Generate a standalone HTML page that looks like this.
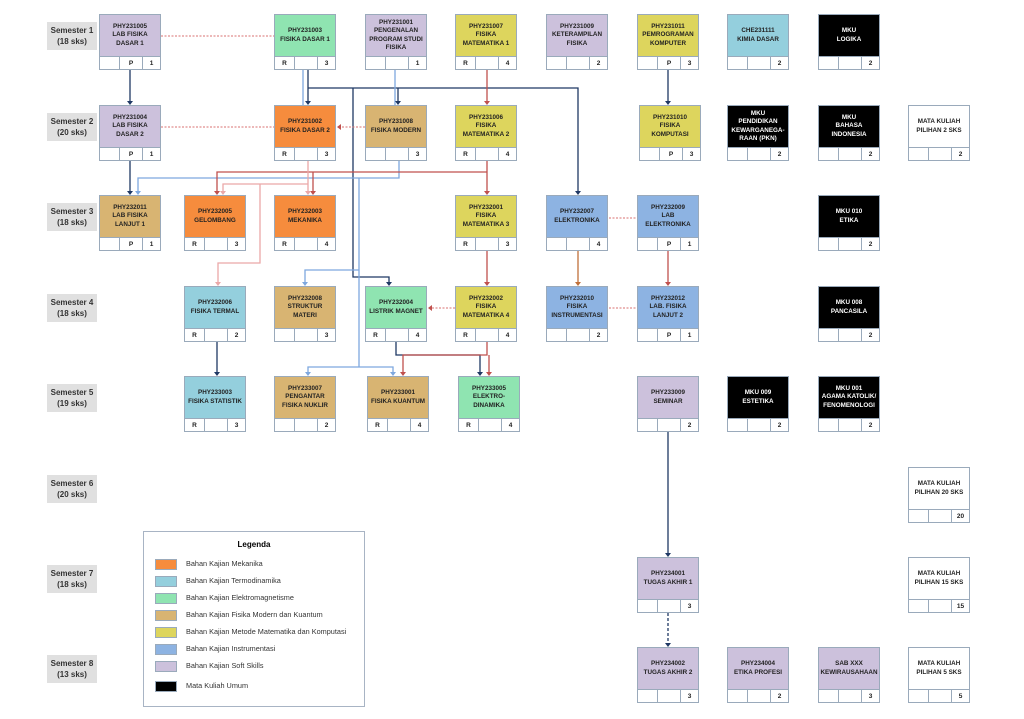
<!DOCTYPE html>
<html><head><meta charset="utf-8"><style>
body{margin:0;width:1024px;height:719px;background:#fff;position:relative;overflow:hidden;font-family:"Liberation Sans",Arial,sans-serif}
.s{position:absolute;left:47px;width:50px;height:28px;background:#e0e0e0;font-size:8px;font-weight:bold;color:#333;text-align:center;line-height:11px;padding-top:3px;box-sizing:border-box}
.b{position:absolute;width:62px;height:56px;border:1px solid #9aaabb;box-sizing:border-box;background:#fff}
.b .t{height:42px;border-bottom:1px solid #9aaabb;display:flex;align-items:center;justify-content:center;text-align:center;font-size:6.3px;font-weight:bold;line-height:8.5px;color:#222;box-sizing:border-box}
.b .f{display:flex;height:13px;font-size:6.5px;font-weight:bold;line-height:13px;color:#222}
.b .f span{text-align:center}
.b .f span:nth-child(1){width:19px;border-right:1px solid #9aaabb}
.b .f span:nth-child(2){width:22px;border-right:1px solid #9aaabb}
.b .f span:nth-child(3){flex:1}
.k .t{background:#000;color:#fff}
.lav .t{background:#ccc1dc}.grn .t{background:#8fe4b1}.org .t{background:#f68c3d}.tan .t{background:#d8b472}.yel .t{background:#ddd55d}.lbl .t{background:#94cfdd}.blu .t{background:#8db3e2}
.lg{position:absolute;left:143px;top:531px;width:222px;height:176px;border:1px solid #a8b4c4;box-sizing:border-box}
.lg .h{position:absolute;top:8px;width:100%;text-align:center;font-size:8px;font-weight:bold}
.lg .r{position:absolute;left:11px;font-size:7.3px;color:#333;line-height:11px}
.lg .r i{display:inline-block;width:22px;height:11px;border:1px solid #9aaabb;vertical-align:middle;margin-right:9px;box-sizing:border-box}
svg{position:absolute;left:0;top:0}
</style></head><body>
<div class="s" style="top:22px">Semester 1<br>(18 sks)</div>
<div class="s" style="top:113px">Semester 2<br>(20 sks)</div>
<div class="s" style="top:203px">Semester 3<br>(18 sks)</div>
<div class="s" style="top:294px">Semester 4<br>(18 sks)</div>
<div class="s" style="top:384px">Semester 5<br>(19 sks)</div>
<div class="s" style="top:475px">Semester 6<br>(20 sks)</div>
<div class="s" style="top:565px">Semester 7<br>(18 sks)</div>
<div class="s" style="top:655px">Semester 8<br>(13 sks)</div>

<svg width="1024" height="719">
<defs>
<marker id="an" markerWidth="6" markerHeight="6" refX="3" refY="5" orient="auto-start-reverse" markerUnits="userSpaceOnUse"><path d="M0,1 L6,1 L3,6z" fill="#1f3864" transform="rotate(-90 3 3)"/></marker>
</defs>
<g fill="none" stroke-width="1.3">
<!-- navy -->
<g stroke="#1f3864">
<path d="M130 70V103M130 161V193M308 70V103M308 88H578V193M398 88V103M353 88V277H389V284M668 70V103M217 342V374M396 342V355H480V374M668 432V555"/>
<path d="M668 613V645" stroke-dasharray="3,2"/>
</g>
<g stroke="#7ea8df">
<path d="M303 70V105M395 70V105M399 161V178H138V193M359 178V367H308V374M359 367H393V374M359 270H305V284"/>
</g>
<g stroke="#c0504d">
<path d="M487 70V103M487 161V193M487 172H217V193M313 172V193M487 251V284M487 342V355H403V374M489 355V374M578 0"/>
<path d="M668 251V284"/>
</g>
<path d="M578 251V284" stroke="#c0703a"/>
<g stroke="#eaa8a8">
<path d="M308 161V193M308 184H223V193M260 184V263H218V284"/>
</g>
<g stroke="#d87070" stroke-width="0.9" stroke-dasharray="2,1.5">
<path d="M161 36H274M161 127H274M365 127H339M455 308H430M609 218H637M609 308H637"/>
</g>
</g>
<g fill="#1f3864">
<path d="M127 101h6l-3 4zM127 191h6l-3 4zM305 101h6l-3 4zM395 101h6l-3 4zM575 191h6l-3 4zM386 282h6l-3 4zM665 101h6l-3 4zM214 372h6l-3 4zM477 372h6l-3 4zM665 553h6l-3 4zM665 643h6l-3 4z"/>
</g>
<g fill="#7ea8df"><path d="M135 191h6l-3 4zM305 372h6l-3 4zM390 372h6l-3 4zM302 282h6l-3 4z"/></g>
<g fill="#c0504d"><path d="M484 101h6l-3 4zM484 191h6l-3 4zM214 191h6l-3 4zM310 191h6l-3 4zM484 282h6l-3 4zM400 372h6l-3 4zM486 372h6l-3 4zM665 282h6l-3 4zM337 127l4-3v6zM428 308l4-3v6z"/></g>
<g fill="#c0703a"><path d="M575 282h6l-3 4z"/></g>
<g fill="#eaa8a8"><path d="M305 191h6l-3 4zM220 191h6l-3 4zM215 282h6l-3 4z"/></g>
</svg>

<!-- Row 1 -->
<div class="b lav" style="left:99px;top:14px"><div class="t">PHY231005<br>LAB FISIKA<br>DASAR 1</div><div class="f"><span></span><span>P</span><span>1</span></div></div>
<div class="b grn" style="left:274px;top:14px"><div class="t">PHY231003<br>FISIKA DASAR 1</div><div class="f"><span>R</span><span></span><span>3</span></div></div>
<div class="b lav" style="left:365px;top:14px"><div class="t">PHY231001<br>PENGENALAN<br>PROGRAM STUDI<br>FISIKA</div><div class="f"><span></span><span></span><span>1</span></div></div>
<div class="b yel" style="left:455px;top:14px"><div class="t">PHY231007<br>FISIKA<br>MATEMATIKA 1</div><div class="f"><span>R</span><span></span><span>4</span></div></div>
<div class="b lav" style="left:546px;top:14px"><div class="t">PHY231009<br>KETERAMPILAN<br>FISIKA</div><div class="f"><span></span><span></span><span>2</span></div></div>
<div class="b yel" style="left:637px;top:14px"><div class="t">PHY231011<br>PEMROGRAMAN<br>KOMPUTER</div><div class="f"><span></span><span>P</span><span>3</span></div></div>
<div class="b lbl" style="left:727px;top:14px"><div class="t">CHE231111<br>KIMIA DASAR</div><div class="f"><span></span><span></span><span>2</span></div></div>
<div class="b k" style="left:818px;top:14px"><div class="t">MKU<br>LOGIKA</div><div class="f"><span></span><span></span><span>2</span></div></div>
<!-- Row 2 -->
<div class="b lav" style="left:99px;top:105px"><div class="t">PHY231004<br>LAB FISIKA<br>DASAR 2</div><div class="f"><span></span><span>P</span><span>1</span></div></div>
<div class="b org" style="left:274px;top:105px"><div class="t">PHY231002<br>FISIKA DASAR 2</div><div class="f"><span>R</span><span></span><span>3</span></div></div>
<div class="b tan" style="left:365px;top:105px"><div class="t">PHY231008<br>FISIKA MODERN</div><div class="f"><span></span><span></span><span>3</span></div></div>
<div class="b yel" style="left:455px;top:105px"><div class="t">PHY231006<br>FISIKA<br>MATEMATIKA 2</div><div class="f"><span>R</span><span></span><span>4</span></div></div>
<div class="b yel" style="left:639px;top:105px"><div class="t">PHY231010<br>FISIKA<br>KOMPUTASI</div><div class="f"><span></span><span>P</span><span>3</span></div></div>
<div class="b k" style="left:727px;top:105px"><div class="t">MKU<br>PENDIDIKAN<br>KEWARGANEGA-<br>RAAN (PKN)</div><div class="f"><span></span><span></span><span>2</span></div></div>
<div class="b k" style="left:818px;top:105px"><div class="t">MKU<br>BAHASA<br>INDONESIA</div><div class="f"><span></span><span></span><span>2</span></div></div>
<div class="b" style="left:908px;top:105px"><div class="t">MATA KULIAH<br>PILIHAN 2 SKS</div><div class="f"><span></span><span></span><span>2</span></div></div>
<!-- Row 3 -->
<div class="b tan" style="left:99px;top:195px"><div class="t">PHY232011<br>LAB FISIKA<br>LANJUT 1</div><div class="f"><span></span><span>P</span><span>1</span></div></div>
<div class="b org" style="left:184px;top:195px"><div class="t">PHY232005<br>GELOMBANG</div><div class="f"><span>R</span><span></span><span>3</span></div></div>
<div class="b org" style="left:274px;top:195px"><div class="t">PHY232003<br>MEKANIKA</div><div class="f"><span>R</span><span></span><span>4</span></div></div>
<div class="b yel" style="left:455px;top:195px"><div class="t">PHY232001<br>FISIKA<br>MATEMATIKA 3</div><div class="f"><span>R</span><span></span><span>3</span></div></div>
<div class="b blu" style="left:546px;top:195px"><div class="t">PHY232007<br>ELEKTRONIKA</div><div class="f"><span></span><span></span><span>4</span></div></div>
<div class="b blu" style="left:637px;top:195px"><div class="t">PHY232009<br>LAB<br>ELEKTRONIKA</div><div class="f"><span></span><span>P</span><span>1</span></div></div>
<div class="b k" style="left:818px;top:195px"><div class="t">MKU 010<br>ETIKA</div><div class="f"><span></span><span></span><span>2</span></div></div>
<!-- Row 4 -->
<div class="b lbl" style="left:184px;top:286px"><div class="t">PHY232006<br>FISIKA TERMAL</div><div class="f"><span>R</span><span></span><span>2</span></div></div>
<div class="b tan" style="left:274px;top:286px"><div class="t">PHY232008<br>STRUKTUR<br>MATERI</div><div class="f"><span></span><span></span><span>3</span></div></div>
<div class="b grn" style="left:365px;top:286px"><div class="t">PHY232004<br>LISTRIK MAGNET</div><div class="f"><span>R</span><span></span><span>4</span></div></div>
<div class="b yel" style="left:455px;top:286px"><div class="t">PHY232002<br>FISIKA<br>MATEMATIKA 4</div><div class="f"><span>R</span><span></span><span>4</span></div></div>
<div class="b blu" style="left:546px;top:286px"><div class="t">PHY232010<br>FISIKA<br>INSTRUMENTASI</div><div class="f"><span></span><span></span><span>2</span></div></div>
<div class="b blu" style="left:637px;top:286px"><div class="t">PHY232012<br>LAB. FISIKA<br>LANJUT 2</div><div class="f"><span></span><span>P</span><span>1</span></div></div>
<div class="b k" style="left:818px;top:286px"><div class="t">MKU 008<br>PANCASILA</div><div class="f"><span></span><span></span><span>2</span></div></div>
<!-- Row 5 -->
<div class="b lbl" style="left:184px;top:376px"><div class="t">PHY233003<br>FISIKA STATISTIK</div><div class="f"><span>R</span><span></span><span>3</span></div></div>
<div class="b tan" style="left:274px;top:376px"><div class="t">PHY233007<br>PENGANTAR<br>FISIKA NUKLIR</div><div class="f"><span></span><span></span><span>2</span></div></div>
<div class="b tan" style="left:367px;top:376px"><div class="t">PHY233001<br>FISIKA KUANTUM</div><div class="f"><span>R</span><span></span><span>4</span></div></div>
<div class="b grn" style="left:458px;top:376px"><div class="t">PHY233005<br>ELEKTRO-<br>DINAMIKA</div><div class="f"><span>R</span><span></span><span>4</span></div></div>
<div class="b lav" style="left:637px;top:376px"><div class="t">PHY233009<br>SEMINAR</div><div class="f"><span></span><span></span><span>2</span></div></div>
<div class="b k" style="left:727px;top:376px"><div class="t">MKU 009<br>ESTETIKA</div><div class="f"><span></span><span></span><span>2</span></div></div>
<div class="b k" style="left:818px;top:376px"><div class="t">MKU 001<br>AGAMA KATOLIK/<br>FENOMENOLOGI</div><div class="f"><span></span><span></span><span>2</span></div></div>
<!-- Row 6-8 -->
<div class="b" style="left:908px;top:467px"><div class="t">MATA KULIAH<br>PILIHAN 20 SKS</div><div class="f"><span></span><span></span><span>20</span></div></div>
<div class="b lav" style="left:637px;top:557px"><div class="t">PHY234001<br>TUGAS AKHIR 1</div><div class="f"><span></span><span></span><span>3</span></div></div>
<div class="b" style="left:908px;top:557px"><div class="t">MATA KULIAH<br>PILIHAN 15 SKS</div><div class="f"><span></span><span></span><span>15</span></div></div>
<div class="b lav" style="left:637px;top:647px"><div class="t">PHY234002<br>TUGAS AKHIR 2</div><div class="f"><span></span><span></span><span>3</span></div></div>
<div class="b lav" style="left:727px;top:647px"><div class="t">PHY234004<br>ETIKA PROFESI</div><div class="f"><span></span><span></span><span>2</span></div></div>
<div class="b lav" style="left:818px;top:647px"><div class="t">SAB XXX<br>KEWIRAUSAHAAN</div><div class="f"><span></span><span></span><span>3</span></div></div>
<div class="b" style="left:908px;top:647px"><div class="t">MATA KULIAH<br>PILIHAN 5 SKS</div><div class="f"><span></span><span></span><span>5</span></div></div>

<div class="lg"><div class="h">Legenda</div>
<div class="r" style="top:26px"><i style="background:#f68c3d"></i>Bahan Kajian Mekanika</div>
<div class="r" style="top:43px"><i style="background:#94cfdd"></i>Bahan Kajian Termodinamika</div>
<div class="r" style="top:60px"><i style="background:#8fe4b1"></i>Bahan Kajian Elektromagnetisme</div>
<div class="r" style="top:77px"><i style="background:#d8b472"></i>Bahan Kajian Fisika Modern dan Kuantum</div>
<div class="r" style="top:94px"><i style="background:#ddd55d"></i>Bahan Kajian Metode Matematika dan Komputasi</div>
<div class="r" style="top:111px"><i style="background:#8db3e2"></i>Bahan Kajian Instrumentasi</div>
<div class="r" style="top:128px"><i style="background:#ccc1dc"></i>Bahan Kajian Soft Skills</div>
<div class="r" style="top:148px"><i style="background:#000"></i>Mata Kuliah Umum</div>
</div>
</body></html>
